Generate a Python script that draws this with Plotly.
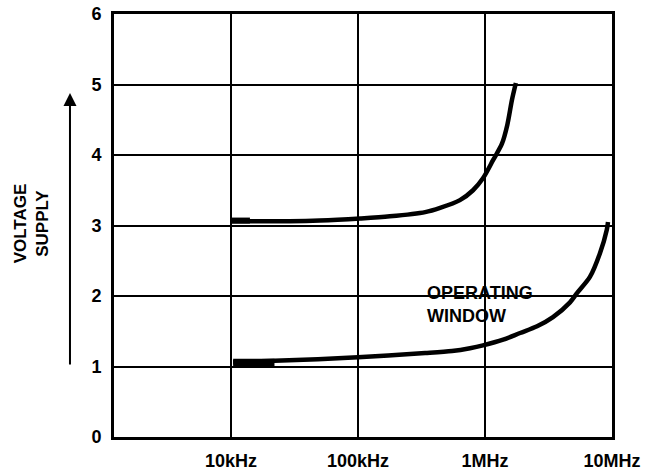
import math
import plotly.graph_objects as go

# Upper boundary curve (frequency in Hz, supply voltage in V)
upper_freq = [1.0e4, 1.41e4, 2.9e4, 5.0e4, 1.04e5, 1.78e5, 3.38e5, 4.43e5,
              6.35e5, 8.05e5, 9.64e5, 1.16e6, 1.36e6, 1.5e6, 1.63e6, 1.75e6]
upper_volt = [3.06, 3.06, 3.06, 3.07, 3.10, 3.13, 3.19, 3.25,
              3.36, 3.50, 3.67, 3.93, 4.16, 4.43, 4.78, 5.02]

# Lower boundary curve
lower_freq = [1.04e4, 2.2e4, 1.0e5, 3.38e5, 5.5e5, 7.62e5, 9.64e5, 1.39e6,
              1.89e6, 2.57e6, 3.43e6, 4.67e6, 5.3e6, 6.7e6, 8.05e6, 9.1e6, 9.3e6]
lower_volt = [1.06, 1.08, 1.13, 1.19, 1.22, 1.26, 1.30, 1.38,
              1.475, 1.57, 1.70, 1.91, 2.04, 2.27, 2.61, 2.94, 3.05]

# Thick starting stubs of each curve
upper_stub_freq = [1.0e4, 1.41e4]
upper_stub_volt = [3.07, 3.07]
lower_stub_freq = [1.04e4, 2.2e4]
lower_stub_volt = [1.055, 1.055]

x_tickvals = [1e4, 1e5, 1e6, 1e7]
x_ticktext = ["10kHz", "100kHz", "1MHz", "10MHz"]
y_tickvals = [0, 1, 2, 3, 4, 5, 6]

FONT = "Liberation Sans, Arial, sans-serif"

fig = go.Figure()
fig.add_trace(go.Scatter(x=upper_freq, y=upper_volt, mode="lines",
                         line=dict(color="black", width=4.5, shape="spline", smoothing=0.8),
                         hoverinfo="skip"))
fig.add_trace(go.Scatter(x=lower_freq, y=lower_volt, mode="lines",
                         line=dict(color="black", width=4.5, shape="spline", smoothing=0.8),
                         hoverinfo="skip"))
fig.add_trace(go.Scatter(x=upper_stub_freq, y=upper_stub_volt, mode="lines",
                         line=dict(color="black", width=6), hoverinfo="skip"))
fig.add_trace(go.Scatter(x=lower_stub_freq, y=lower_stub_volt, mode="lines",
                         line=dict(color="black", width=7.5), hoverinfo="skip"))

# white gaps in the grid around the "OPERATING WINDOW" label
fig.add_shape(type="rect", xref="x", yref="y",
              x0=math.log10(2.97e5), x1=math.log10(3.25e6), y0=1.962, y1=2.038,
              fillcolor="white", line=dict(width=0), layer="above")
fig.add_shape(type="rect", xref="x", yref="y",
              x0=5.97, x1=6.03, y0=1.37, y1=2.36,
              fillcolor="white", line=dict(width=0), layer="above")

fig.add_annotation(text="OPERATING<br>WINDOW", xref="paper", yref="y",
                   x=0.6245, y=1.875, xanchor="left", yanchor="middle",
                   align="left", showarrow=False,
                   font=dict(family=FONT, size=18, color="black", weight="bold"))

fig.add_annotation(text="VOLTAGE<br>SUPPLY", xref="paper", yref="paper",
                   x=-0.1667, y=0.505, xanchor="center", yanchor="middle",
                   textangle=-90, showarrow=False,
                   font=dict(family=FONT, size=17, color="black", weight="bold"))

fig.add_annotation(text="", xref="paper", yref="paper",
                   x=-0.0884, y=0.813, ax=0, ay=273,
                   axref="pixel", ayref="pixel",
                   showarrow=True, arrowhead=2, arrowsize=1.3,
                   arrowwidth=2, arrowcolor="black")

fig.update_xaxes(type="log", range=[3.079, 7.0], automargin=False,
                 tickvals=x_tickvals, ticktext=x_ticktext,
                 showgrid=True, gridcolor="black", gridwidth=2,
                 showline=True, linecolor="black", linewidth=3, mirror=True,
                 ticks="", ticklabelstandoff=5, zeroline=False,
                 ticklabeloverflow="allow",
                 tickfont=dict(family=FONT, size=18, color="black", weight="bold"))
fig.update_yaxes(range=[0, 6], tickvals=y_tickvals, automargin=False,
                 showgrid=True, gridcolor="black", gridwidth=2,
                 showline=True, linecolor="black", linewidth=3, mirror=True,
                 ticks="", ticklabelstandoff=6, zeroline=False,
                 ticklabeloverflow="allow",
                 tickfont=dict(family=FONT, size=18, color="black", weight="bold"))

fig.update_layout(width=654, height=471,
                  margin=dict(l=114, r=42, t=14, b=34, autoexpand=False),
                  plot_bgcolor="white", paper_bgcolor="white",
                  showlegend=False)

# remove the page's default 8px body margin so the figure fills the window
fig.write_html("out.html",
               config={"displayModeBar": False, "staticPlot": True},
               post_script="document.body.style.margin='0';"
                           "document.body.style.overflow='hidden';")
